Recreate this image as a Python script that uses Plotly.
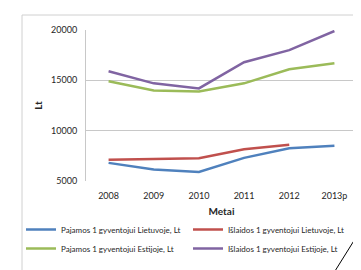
import plotly.graph_objects as go

years = ["2008", "2009", "2010", "2011", "2012", "2013p"]
pajamos_lt = [6800, 6150, 5900, 7300, 8250, 8500]
islaidos_lt = [7100, 7200, 7250, 8150, 8600]
pajamos_ee = [14900, 14000, 13900, 14700, 16100, 16700]
islaidos_ee = [15900, 14700, 14200, 16800, 18000, 19900]

names = [
    "Pajamos 1 gyventojui Lietuvoje, Lt",
    "Išlaidos 1 gyventojui Lietuvoje, Lt",
    "Pajamos 1 gyventojui Estijoje, Lt",
    "Išlaidos 1 gyventojui Estijoje, Lt",
]
series = [pajamos_lt, islaidos_lt, pajamos_ee, islaidos_ee]
colors = ["#4F81BD", "#C0504D", "#9BBB59", "#8064A2"]
legend_ids = ["legend", "legend2", "legend", "legend2"]

FONT = "Lato, sans-serif"
TXT = "#262626"

fig = go.Figure()
for name, vals, col, lg in zip(names, series, colors, legend_ids):
    fig.add_trace(go.Scatter(
        x=years[:len(vals)], y=vals, name=name, mode="lines",
        line=dict(color=col, width=2.5), legend=lg,
    ))

L, R, T, B = 78, 349, 22, 173
W, H = 361, 270
def px(x):
    return (x - L) / (R - L)
def py(y):
    return (B - y) / (B - T)

legend_common = dict(
    orientation="v", xanchor="left", yanchor="top",
    font=dict(family=FONT, size=8, color=TXT),
    itemwidth=30, tracegroupgap=0, bgcolor="rgba(0,0,0,0)", borderwidth=0,
)

fig.update_layout(
    width=W, height=H,
    margin=dict(l=L, r=W - R, t=T, b=H - B),
    paper_bgcolor="white", plot_bgcolor="white",
    font=dict(family=FONT, size=9, color=TXT),
    showlegend=True,
    legend=dict(x=px(13), y=py(207), **legend_common),
    legend2=dict(x=px(180), y=py(207), **legend_common),
    xaxis=dict(
        type="category", showgrid=False, showline=False, ticks="",
        range=[-0.5, 5.5], ticklabelstandoff=8,
        title=dict(text="<b>Metai</b>", standoff=7, font=dict(family=FONT, size=10, color=TXT)),
        tickfont=dict(family=FONT, size=9, color=TXT),
    ),
    yaxis=dict(
        range=[5000, 20000], tickvals=[5000, 10000, 15000, 20000], tickformat="d",
        showgrid=True, gridcolor="#c8c8c8", gridwidth=1,
        showline=True, linecolor="#c8c8c8", linewidth=1,
        zeroline=False, ticks="", ticklabelstandoff=6,
        title=dict(text="<b>Lt</b>", standoff=6, font=dict(family=FONT, size=10, color=TXT)),
        tickfont=dict(family=FONT, size=9, color=TXT),
    ),
    shapes=[
        dict(type="rect", xref="paper", yref="paper",
             x0=px(14), x1=px(354), y0=py(272), y1=py(7),
             line=dict(color="#d0d0d0", width=1), layer="below"),
        dict(type="line", xref="paper", yref="paper",
             x0=px(362), y0=py(207), x1=px(322), y1=py(271),
             line=dict(color="black", width=1)),
    ],
)

fig.write_html("out.html")
